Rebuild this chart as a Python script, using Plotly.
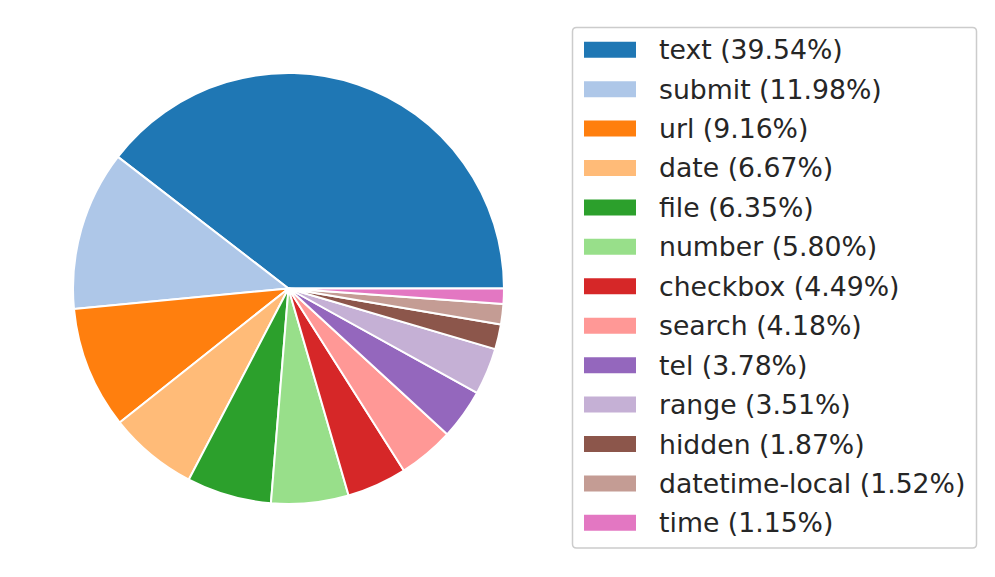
import plotly.graph_objects as go

labels = ["text", "submit", "url", "date", "file", "number", "checkbox",
          "search", "tel", "range", "hidden", "datetime-local", "time"]
shares = [39.54, 11.98, 9.16, 6.67, 6.35, 5.80, 4.49, 4.18, 3.78, 3.51, 1.87, 1.52, 1.15]
colors = ["#1f77b4", "#aec7e8", "#ff7f0e", "#ffbb78", "#2ca02c", "#98df8a", "#d62728",
          "#ff9896", "#9467bd", "#c5b0d5", "#8c564b", "#c49c94", "#e377c2"]

# page body has an 8px margin, so the figure is a bit smaller and shifted
OFF = 8
W, H = 995 - OFF, 577 - OFF

def px(x):
    return (x - OFF) / W

def py(y):
    return 1 - (y - OFF) / H

# matplotlib starts at 3 o'clock going counterclockwise; plotly's rotation
# marks where the first slice ends when direction is counterclockwise
rot = 90 - 360 * shares[0] / sum(shares)

fig = go.Figure(go.Pie(
    labels=labels, values=shares, sort=False,
    direction="counterclockwise", rotation=rot,
    marker=dict(colors=colors, line=dict(color="white", width=2)),
    textinfo="none", showlegend=False,
    domain=dict(x=[px(73), px(504)], y=[py(504), py(73)]),
))

# legend drawn by hand, matplotlib style
x0, x1, y0, y1, r = 572.5, 976.5, 27.5, 548, 4
box = (f"M {px(x0 + r)} {py(y0)} L {px(x1 - r)} {py(y0)} "
       f"Q {px(x1)} {py(y0)} {px(x1)} {py(y0 + r)} L {px(x1)} {py(y1 - r)} "
       f"Q {px(x1)} {py(y1)} {px(x1 - r)} {py(y1)} L {px(x0 + r)} {py(y1)} "
       f"Q {px(x0)} {py(y1)} {px(x0)} {py(y1 - r)} L {px(x0)} {py(y0 + r)} "
       f"Q {px(x0)} {py(y0)} {px(x0 + r)} {py(y0)} Z")
shapes = [dict(type="path", xref="paper", yref="paper", path=box,
               line=dict(color="#cccccc", width=1.5), fillcolor="white", layer="below")]
annotations = []
row0, pitch = 49.7, 39.43
for i, (lab, s, c) in enumerate(zip(labels, shares, colors)):
    yc = row0 + i * pitch
    shapes.append(dict(type="rect", xref="paper", yref="paper",
                       x0=px(584), x1=px(636), y0=py(yc + 8), y1=py(yc - 8),
                       line=dict(width=0), fillcolor=c))
    annotations.append(dict(xref="paper", yref="paper", x=px(657), y=py(yc),
                            xanchor="left", yanchor="middle", showarrow=False,
                            text=f"{lab} ({s:.2f}%)",
                            font=dict(family="DejaVu Sans", size=26.7, color="#262626")))

fig.update_layout(
    width=W, height=H, margin=dict(l=0, r=0, t=0, b=0),
    paper_bgcolor="white", plot_bgcolor="white",
    shapes=shapes, annotations=annotations,
)
fig.write_html("out.html")
